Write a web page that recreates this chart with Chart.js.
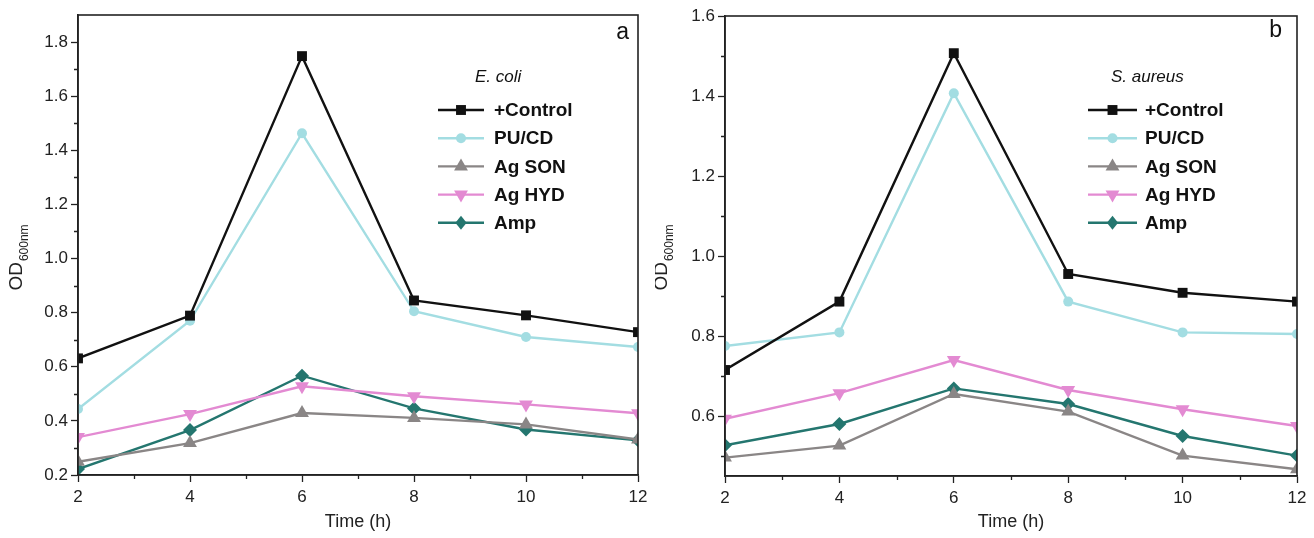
<!DOCTYPE html>
<html>
<head>
<meta charset="utf-8">
<script src="https://cdn.jsdelivr.net/npm/chart.js@4.4.1/dist/chart.umd.min.js"></script>
<style>
  html, body { margin: 0; padding: 0; background: #fff; }
  #wrap { position: relative; width: 1314px; height: 538px; overflow: hidden; }
  .panel { position: absolute; top: 0; height: 538px; }
  #pa { left: 0; width: 655px; }
  #pb { left: 655px; width: 659px; }
</style>
</head>
<body>
<div id="wrap">
  <div class="panel" id="pa"><canvas id="ca"></canvas></div>
  <div class="panel" id="pb"><canvas id="cb"></canvas></div>
</div>
<script>
// ---------- data ----------
const hours = [2, 4, 6, 8, 10, 12];
const seriesNames = ['+Control', 'PU/CD', 'Ag SON', 'Ag HYD', 'Amp'];

// (a) E. coli
const ecoliControl = [0.631, 0.789, 1.748, 0.845, 0.790, 0.728];
const ecoliPUCD    = [0.444, 0.770, 1.463, 0.805, 0.710, 0.673];
const ecoliAgSON   = [0.249, 0.318, 0.429, 0.411, 0.387, 0.331];
const ecoliAgHYD   = [0.340, 0.425, 0.528, 0.491, 0.461, 0.428];
const ecoliAmp     = [0.222, 0.366, 0.567, 0.446, 0.368, 0.328];

// (b) S. aureus
const saureusControl = [0.715, 0.886, 1.507, 0.955, 0.908, 0.886];
const saureusPUCD    = [0.775, 0.809, 1.407, 0.886, 0.809, 0.805];
const saureusAgSON   = [0.496, 0.526, 0.655, 0.611, 0.501, 0.467];
const saureusAgHYD   = [0.593, 0.657, 0.740, 0.665, 0.617, 0.575];
const saureusAmp     = [0.527, 0.580, 0.669, 0.630, 0.550, 0.501];

// tick labels
const xMajorTicks = [2, 4, 6, 8, 10, 12];
const xMinorTicks = [3, 5, 7, 9, 11];
const yMajorTicksA = [0.2, 0.4, 0.6, 0.8, 1.0, 1.2, 1.4, 1.6, 1.8];
const yMinorTicksA = [0.3, 0.5, 0.7, 0.9, 1.1, 1.3, 1.5, 1.7];
const yMajorTicksB = [0.6, 0.8, 1.0, 1.2, 1.4, 1.6];
const yMinorTicksB = [0.5, 0.7, 0.9, 1.1, 1.3, 1.5];

// ---------- styles ----------
const FONT = '"Liberation Sans", Arial, sans-serif';
const seriesStyles = [
  { color: '#111111', pointStyle: 'rect',     radius: 7,   rotation: 0 },
  { color: '#a3dde2', pointStyle: 'circle',   radius: 5,   rotation: 0 },
  { color: '#8a8686', pointStyle: 'triangle', radius: 8,   rotation: 0 },
  { color: '#e38ad2', pointStyle: 'triangle', radius: 8,   rotation: 180 },
  { color: '#24766f', pointStyle: 'rectRot',  radius: 7,   rotation: 0 }
];

function makeDatasets(seriesList) {
  return seriesList.map((vals, i) => {
    const s = seriesStyles[i];
    return {
      label: seriesNames[i],
      data: hours.map((h, j) => ({ x: h, y: vals[j] })),
      borderColor: s.color,
      backgroundColor: s.color,
      borderWidth: 2.4,
      pointStyle: s.pointStyle,
      pointRadius: s.radius,
      pointRotation: s.rotation,
      pointBorderWidth: 0,
      pointBackgroundColor: s.color,
      tension: 0,
      clip: 0
    };
  });
}

function drawMarker(ctx, style, radius, rotation, x, y, color) {
  ctx.save();
  ctx.translate(x, y);
  ctx.rotate(rotation * Math.PI / 180);
  ctx.fillStyle = color;
  ctx.beginPath();
  if (style === 'rect') {
    const h = radius * Math.SQRT1_2;
    ctx.rect(-h, -h, 2 * h, 2 * h);
  } else if (style === 'circle') {
    ctx.arc(0, 0, radius, 0, Math.PI * 2);
  } else if (style === 'triangle') {
    const r = radius;
    ctx.moveTo(0, -r);
    ctx.lineTo(r * 0.866, r * 0.5);
    ctx.lineTo(-r * 0.866, r * 0.5);
    ctx.closePath();
  } else if (style === 'rectRot') {
    ctx.moveTo(0, -radius);
    ctx.lineTo(radius * 0.8, 0);
    ctx.lineTo(0, radius);
    ctx.lineTo(-radius * 0.8, 0);
    ctx.closePath();
  }
  ctx.fill();
  ctx.restore();
}

// plugin: frame, minor ticks, y-title with subscript, panel letter, legend
const decorPlugin = {
  id: 'decor',
  afterDraw(chart, args, opts) {
    const ctx = chart.ctx;
    const a = chart.chartArea;
    const xs = chart.scales.x, ys = chart.scales.y;
    ctx.save();
    // frame
    ctx.strokeStyle = '#222';
    ctx.lineWidth = 1.6;
    ctx.strokeRect(a.left, a.top, a.right - a.left, a.bottom - a.top);
    // minor ticks
    ctx.lineWidth = 1.3;
    ctx.beginPath();
    opts.xMinor.forEach(v => {
      const px = Math.round(xs.getPixelForValue(v)) + 0.5;
      ctx.moveTo(px, a.bottom); ctx.lineTo(px, a.bottom + 4);
    });
    opts.yMinor.forEach(v => {
      const py = Math.round(ys.getPixelForValue(v)) + 0.5;
      ctx.moveTo(a.left, py); ctx.lineTo(a.left - 4, py);
    });
    ctx.stroke();

    // y title OD600nm (rotated)
    ctx.save();
    ctx.translate(opts.yTitleX, opts.yTitleY);
    ctx.rotate(-Math.PI / 2);
    ctx.fillStyle = '#222';
    ctx.textBaseline = 'alphabetic';
    ctx.textAlign = 'left';
    ctx.font = '19px ' + FONT;
    const odW = ctx.measureText('OD').width;
    ctx.font = '12px ' + FONT;
    const subW = ctx.measureText('600nm').width;
    const start = -(odW + subW) / 2;
    ctx.font = '19px ' + FONT;
    ctx.fillText('OD', start, 0);
    ctx.font = '12px ' + FONT;
    ctx.fillText('600nm', start + odW + 1, 6);
    ctx.restore();

    // panel letter
    ctx.fillStyle = '#111';
    ctx.font = '23px ' + FONT;
    ctx.textAlign = 'right';
    ctx.textBaseline = 'middle';
    ctx.fillText(opts.letter, opts.letterX, opts.letterY);

    // legend title
    ctx.font = 'italic 17px ' + FONT;
    ctx.textAlign = 'left';
    ctx.fillText(opts.legendTitle, opts.legendTitleX, opts.legendTitleY);

    // legend entries
    chart.data.datasets.forEach((ds, i) => {
      const s = seriesStyles[i];
      const y = opts.legendY0 + i * opts.legendDY;
      ctx.strokeStyle = ds.borderColor;
      ctx.lineWidth = 2.4;
      ctx.beginPath();
      ctx.moveTo(opts.legendLineX0, y);
      ctx.lineTo(opts.legendLineX1, y);
      ctx.stroke();
      drawMarker(ctx, s.pointStyle, s.radius, s.rotation,
        (opts.legendLineX0 + opts.legendLineX1) / 2, y, ds.borderColor);
      ctx.fillStyle = '#111';
      ctx.font = 'bold 19px ' + FONT;
      ctx.textAlign = 'left';
      ctx.textBaseline = 'middle';
      ctx.fillText(ds.label, opts.legendTextX, y + 1);
    });
    ctx.restore();
  }
};

function makeChart(canvasId, seriesList, yMin, yMax, yMajor, yMinor, axisW, axisH, pad, decor) {
  return new Chart(document.getElementById(canvasId), {
    type: 'line',
    data: { datasets: makeDatasets(seriesList) },
    plugins: [decorPlugin],
    options: {
      responsive: true,
      maintainAspectRatio: false,
      animation: false,
      events: [],
      layout: { padding: pad },
      plugins: {
        legend: { display: false },
        tooltip: { enabled: false },
        decor: decor
      },
      scales: {
        x: {
          type: 'linear',
          min: 2, max: 12,
          afterBuildTicks: s => { s.ticks = xMajorTicks.map(v => ({ value: v })); },
          afterFit: s => { s.height = axisH; },
          grid: { display: true, drawOnChartArea: false, drawTicks: true, tickLength: 7, color: '#222', tickWidth: 1.3 },
          border: { display: true, color: '#222', width: 1.6 },
          ticks: { color: '#222', font: { family: FONT, size: 17 }, padding: 5, maxRotation: 0, autoSkip: false,
                   callback: v => String(v) },
          title: { display: true, text: 'Time (h)', color: '#222', font: { family: FONT, size: 18 }, padding: { top: 0, bottom: 5 } }
        },
        y: {
          type: 'linear',
          min: yMin, max: yMax,
          afterBuildTicks: s => { s.ticks = yMajor.map(v => ({ value: v })); },
          afterFit: s => { s.width = axisW; },
          grid: { display: true, drawOnChartArea: false, drawTicks: true, tickLength: 7, color: '#222', tickWidth: 1.3 },
          border: { display: true, color: '#222', width: 1.6 },
          ticks: { color: '#222', font: { family: FONT, size: 17 }, padding: 3, autoSkip: false,
                   callback: v => Number(v).toFixed(1) }
        }
      }
    }
  });
}

makeChart('ca',
  [ecoliControl, ecoliPUCD, ecoliAgSON, ecoliAgHYD, ecoliAmp],
  0.2, 1.9, yMajorTicksA, yMinorTicksA, 78, 63,
  { top: 15, right: 17, left: 0, bottom: 0 },
  { xMinor: xMinorTicks, yMinor: yMinorTicksA,
    yTitleX: 22, yTitleY: 258,
    letter: 'a', letterX: 629, letterY: 33,
    legendTitle: 'E. coli', legendTitleX: 475, legendTitleY: 77,
    legendY0: 110, legendDY: 28.2, legendLineX0: 438, legendLineX1: 484, legendTextX: 494 });

makeChart('cb',
  [saureusControl, saureusPUCD, saureusAgSON, saureusAgHYD, saureusAmp],
  0.45, 1.6, yMajorTicksB, yMinorTicksB, 70, 62,
  { top: 16, right: 17, left: 0, bottom: 0 },
  { xMinor: xMinorTicks, yMinor: yMinorTicksB,
    yTitleX: 12, yTitleY: 258,
    letter: 'b', letterX: 627, letterY: 31,
    legendTitle: 'S. aureus', legendTitleX: 456, legendTitleY: 77,
    legendY0: 110, legendDY: 28.2, legendLineX0: 433, legendLineX1: 482, legendTextX: 490 });
</script>
</body>
</html>
